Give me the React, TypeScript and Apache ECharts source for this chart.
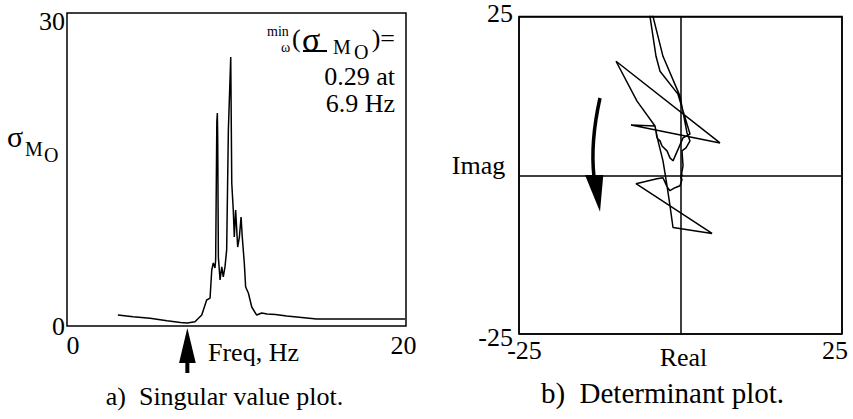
import React, { useEffect, useRef } from "react";
import * as echarts from "echarts";

const FONT = "Liberation Serif";

// ---- a) Singular value plot ----
const freqHz = [3.0, 3.9, 4.9, 5.9, 6.7, 7.1, 7.55, 7.95, 8.24, 8.44, 8.54, 8.63, 8.73, 8.77, 8.84, 8.87, 8.89, 8.93, 9.03, 9.13, 9.22, 9.32, 9.42, 9.52, 9.66, 9.72, 9.81, 9.87, 9.95, 10.07, 10.17, 10.27, 10.34, 10.46, 10.54, 10.70, 10.90, 11.19, 11.49, 11.8, 12.3, 12.96, 14.73, 19.94];
const sigmaMO = [1.05, 0.89, 0.74, 0.51, 0.34, 0.29, 0.40, 1.05, 2.49, 2.68, 5.37, 6.04, 5.56, 6.33, 19.6, 20.42, 18.2, 6.62, 4.41, 5.66, 4.70, 5.66, 7.29, 18.79, 25.79, 13.71, 11.12, 8.53, 11.12, 7.57, 8.53, 10.45, 8.53, 6.04, 3.74, 3.16, 1.82, 1.05, 1.25, 1.15, 1.1, 0.96, 0.67, 0.67];
const svXTicks = [0, 20];
const svYTicks = [0, 30];

// ---- b) Determinant plot ----
const detReal = [0.08, 0.39, 0.23, 0.85, 1.47, 1.01, -0.08, -2.71, -5.42, -3.79, -3.17, -0.39, 1.47, 0.39, -0.08, -1.16, -1.63, -2.09, -2.86, -3.17, -3.64, -3.95, -7.66, 6.11, -9.98, -6.73, -3.95, -3.48, -2.71, -2.09, -1.63, -1.16, 4.88, -6.89, -3.64, -2.71, -2.09, -1.63, -0.85, -0.08, 0.23, 0.08, 0.35, 0.0];
const detImag = [-0.24, 1.49, 3.84, 4.31, 5.41, 6.66, 12.46, 18.73, 29.7, 18.73, 16.38, 12.77, 6.50, 5.88, 4.78, 2.27, 2.74, 3.84, 4.62, 5.41, 5.88, 7.76, 7.92, 5.09, 17.95, 11.68, 7.76, 5.41, 2.27, -1.65, -4.78, -8.23, -9.17, -1.33, -0.55, -0.39, -1.80, -2.43, -1.96, -1.65, -0.71, -0.24, 0.1, -0.5];
const detTicks = [-25, 25];

const base = { fontFamily: FONT, fontSize: 26, color: "#000" };

export default function App() {
  const ref = useRef<HTMLDivElement>(null);
  useEffect(() => {
    const chart = echarts.init(ref.current!, null, { renderer: "svg" });
    const lineStyle = { color: "#000", width: 1.5 };
    const option: any = {
      animation: false,
      backgroundColor: "#fff",
      textStyle: { fontFamily: FONT },
      grid: [
        { left: 67, top: 13, width: 339, height: 313, show: true, borderColor: "#000", borderWidth: 1.5 },
        { left: 519, top: 15, width: 323, height: 319, show: true, borderColor: "#000", borderWidth: 1.5 },
      ],
      xAxis: [
        {
          gridIndex: 0, type: "value", min: svXTicks[0], max: svXTicks[1], interval: svXTicks[1] - svXTicks[0],
          axisLine: { show: false }, axisTick: { show: false }, splitLine: { show: false },
          axisLabel: {
            ...base, margin: 6,
            formatter: (v: number) => (v === svXTicks[0] ? `{l|${v}}` : `{r|${v}}`),
            rich: { l: { ...base, padding: [0, 0, 0, 12] }, r: { ...base, padding: [0, 5, 0, 0] } },
          },
        },
        {
          gridIndex: 1, type: "value", min: detTicks[0], max: detTicks[1], interval: 25,
          axisLine: { show: false }, axisTick: { show: false },
          splitLine: { show: true, lineStyle },
          axisLabel: {
            ...base, margin: 3,
            formatter: (v: number) => (v === detTicks[0] ? `{l|${v}}` : v === detTicks[1] ? `{r|${v}}` : ""),
            rich: { l: { ...base, padding: [0, 0, 0, 11] }, r: { ...base, padding: [0, 14, 0, 0] } },
          },
        },
      ],
      yAxis: [
        {
          gridIndex: 0, type: "value", min: svYTicks[0], max: svYTicks[1], interval: svYTicks[1] - svYTicks[0],
          axisLine: { show: false }, axisTick: { show: false }, splitLine: { show: false },
          axisLabel: {
            ...base, margin: 2,
            formatter: (v: number) => (v === svYTicks[1] ? `{t|${v}}` : `{b|${v}}`),
            rich: { t: { ...base, padding: [16, 0, 0, 0] }, b: { ...base } },
          },
        },
        {
          gridIndex: 1, type: "value", min: detTicks[0], max: detTicks[1], interval: 25,
          axisLine: { show: false }, axisTick: { show: false },
          splitLine: { show: true, lineStyle },
          axisLabel: {
            ...base, margin: 6,
            formatter: (v: number) => (v === detTicks[1] ? `{t|${v}}` : v === detTicks[0] ? `{b|${v}}` : ""),
            rich: { t: { ...base, padding: [0, 0, 7, 0] }, b: { ...base, padding: [7, 0, 0, 0] } },
          },
        },
      ],
      series: [
        {
          type: "line", xAxisIndex: 0, yAxisIndex: 0, symbol: "none", clip: true, z: 3,
          data: freqHz.map((f, i) => [f, sigmaMO[i]]), lineStyle,
        },
        {
          type: "line", xAxisIndex: 1, yAxisIndex: 1, symbol: "none", clip: true, z: 3,
          data: detReal.map((r, i) => [r, detImag[i]]), lineStyle,
        },
      ],
    };
    chart.setOption(option);

    let minIdx = 0;
    sigmaMO.forEach((v, i) => { if (v < sigmaMO[minIdx]) minIdx = i; });
    const [ax] = chart.convertToPixel({ gridIndex: 0 } as any, [freqHz[minIdx], 0]) as number[];

    const txt = (text: string, x: number, y: number, size = 26, align = "left") => ({
      type: "text", x, y, silent: true,
      style: { text, fontFamily: FONT, fontSize: size, fill: "#000", align, textAlign: align, verticalAlign: "middle", textVerticalAlign: "middle" },
    });

    chart.setOption({
      graphic: [
        // y label sigma_MO
        txt("σ", 7, 136, 30),
        txt("M", 25, 149, 20),
        txt("O", 44, 155, 20),
        // annotation
        txt("min", 267, 31, 14),
        txt("ω", 281, 47, 14),
        txt("(", 292, 38),
        txt("σ", 302, 39, 34),
        { type: "line", silent: true, shape: { x1: 303, y1: 51, x2: 327, y2: 51 }, style: { stroke: "#000", lineWidth: 2 } },
        txt("M", 333, 47, 20),
        txt("O", 354, 52, 20),
        txt(")=", 395, 38, 26, "right"),
        txt("0.29 at", 395, 76, 26, "right"),
        txt("6.9 Hz", 395, 103, 26, "right"),
        // freq arrow
        { type: "polygon", silent: true, shape: { points: [[ax, 328], [ax - 8.3, 363], [ax + 8.4, 363]] }, style: { fill: "#000" } },
        { type: "rect", silent: true, shape: { x: ax - 2, y: 362, width: 4, height: 11 }, style: { fill: "#000" } },
        txt("Freq, Hz", 208, 352),
        txt("a)  Singular value plot.", 224.5, 396, 26, "center"),
        // right plot
        txt("Imag", 478.5, 165, 26, "center"),
        txt("Real", 683.5, 357, 26, "center"),
        txt("b)  Determinant plot.", 662.5, 393, 29, "center"),
        { type: "bezierCurve", silent: true, shape: { x1: 600, y1: 98, cpx1: 594, cpy1: 125, cpx2: 591, cpy2: 150, x2: 594, y2: 177 }, style: { stroke: "#000", lineWidth: 3.5, fill: "none" } },
        { type: "polygon", silent: true, shape: { points: [[585, 175], [603.3, 175], [600, 211.7]] }, style: { fill: "#000" } },
      ],
    });
    return () => chart.dispose();
  }, []);
  return <div ref={ref} style={{ position: "fixed", left: 0, top: 0, width: 853, height: 419, background: "#fff" }} />;
}
